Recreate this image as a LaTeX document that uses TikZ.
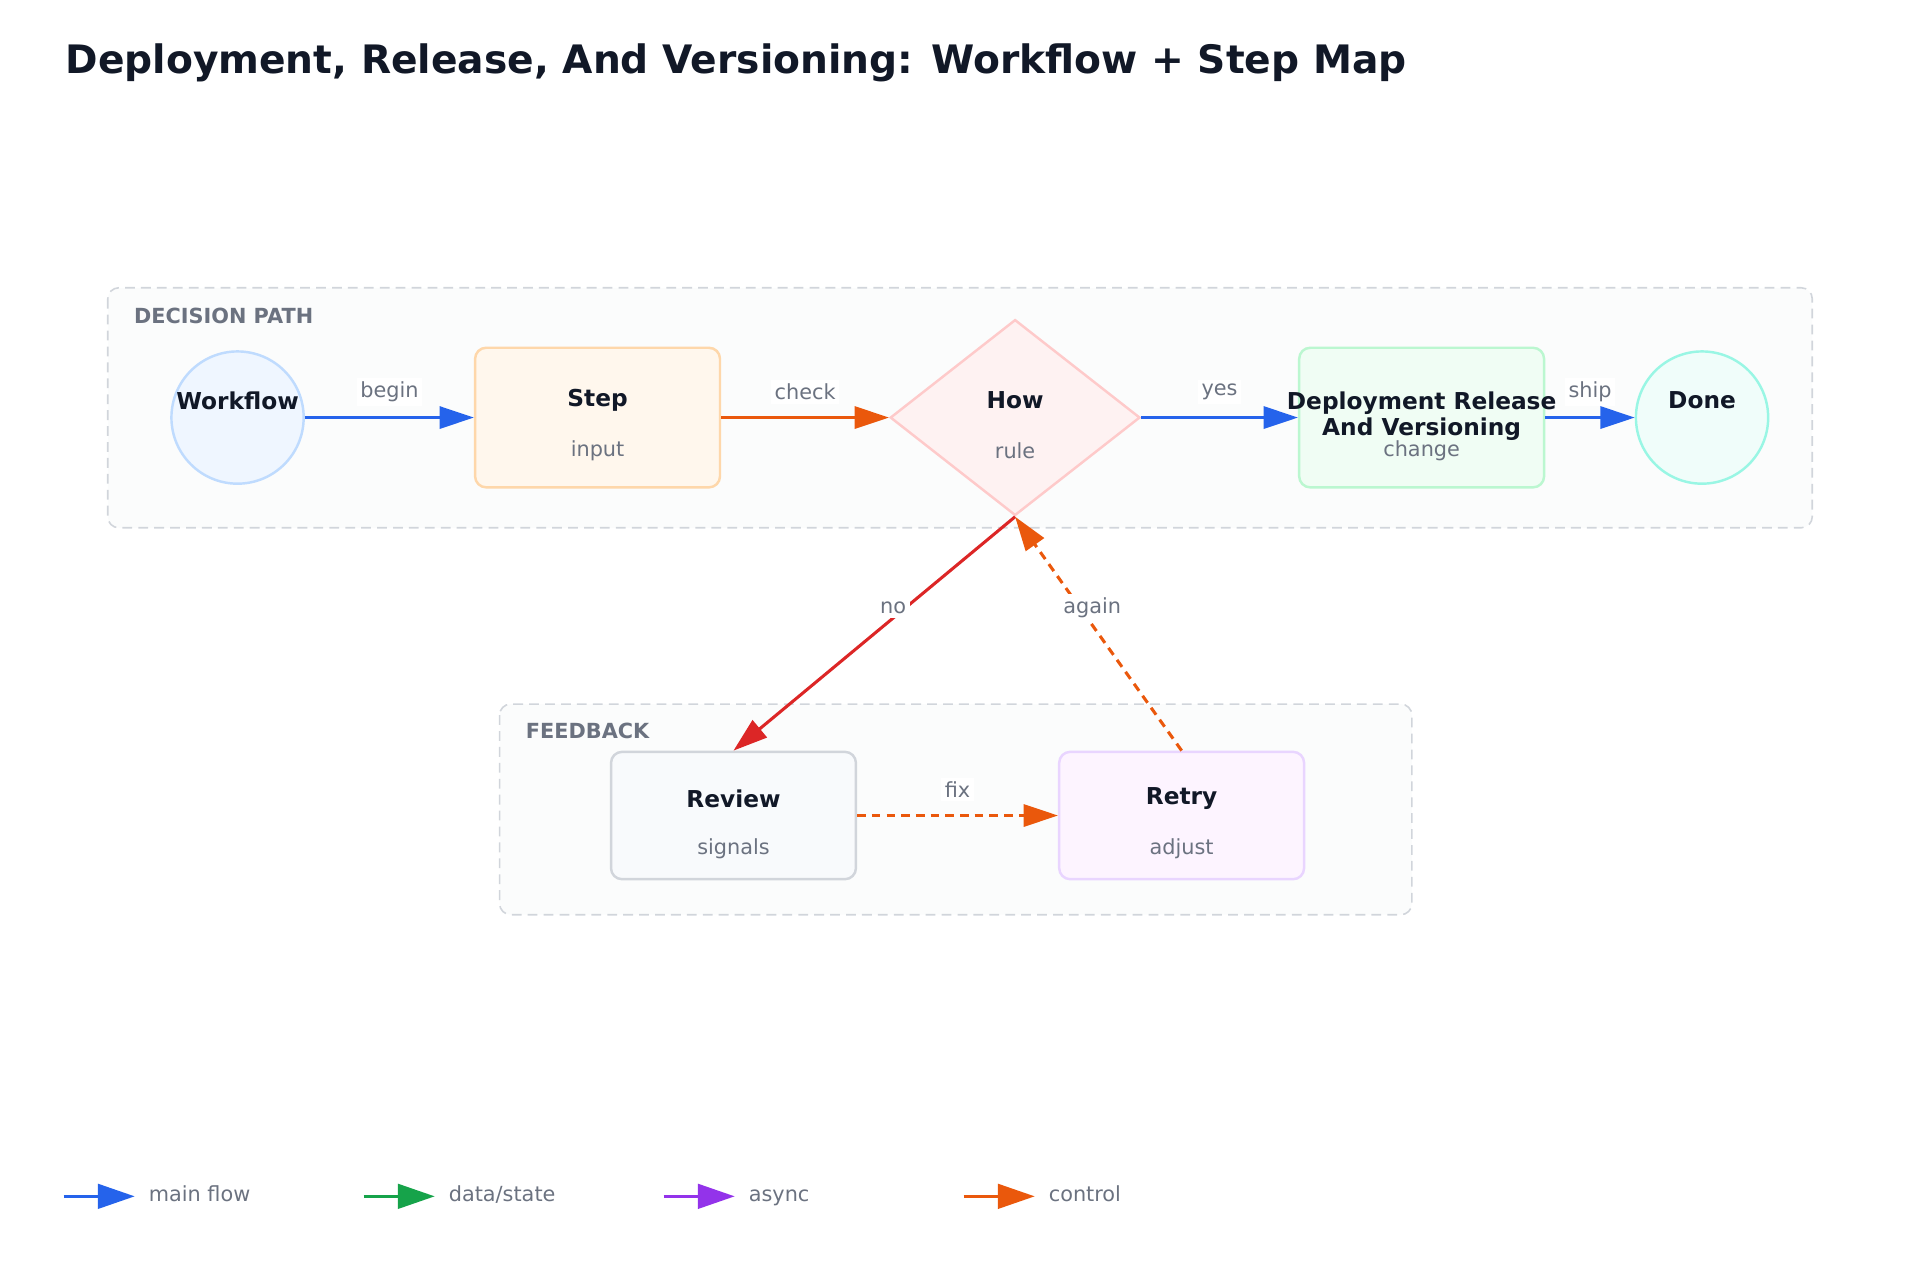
\documentclass[tikz,border=0pt]{standalone}
\usepackage{fontspec}
\setmainfont{DejaVu Sans}
\usetikzlibrary{arrows.meta,shapes.geometric}
\definecolor{tblue}{HTML}{2563EB}\definecolor{tgreen}{HTML}{16A34A}
\definecolor{tpurp}{HTML}{9333EA}\definecolor{torange}{HTML}{EA580C}
\definecolor{tred}{HTML}{DC2626}\definecolor{tgray}{HTML}{6B7280}
\definecolor{tdark}{HTML}{111827}\definecolor{tsub}{HTML}{6B7280}
\definecolor{c1s}{HTML}{BFDBFE}\definecolor{c1f}{HTML}{EFF6FF}
\definecolor{c2s}{HTML}{FED7AA}\definecolor{c2f}{HTML}{FFF7ED}
\definecolor{c3s}{HTML}{FECACA}\definecolor{c3f}{HTML}{FEF2F2}
\definecolor{c4s}{HTML}{BBF7D0}\definecolor{c4f}{HTML}{F0FDF4}
\definecolor{c5s}{HTML}{99F6E4}\definecolor{c5f}{HTML}{F0FDFA}
\definecolor{c6s}{HTML}{D1D5DB}\definecolor{c6f}{HTML}{F8FAFC}
\definecolor{c7s}{HTML}{E9D5FF}\definecolor{c7f}{HTML}{FDF4FF}
\definecolor{gs}{HTML}{D1D5DB}\definecolor{gf}{HTML}{FBFCFC}
\begin{document}
\begin{tikzpicture}[x=1pt,y=-1pt,
  grp/.style={draw=gs,dash pattern=on 8pt off 5pt,line width=1.3pt,rounded corners=9pt,fill=gf},
  grplab/.style={anchor=west,text=tgray,font=\fontsize{17}{20}\selectfont\bfseries},
  box/.style={rounded corners=9pt,line width=2pt,minimum width=200pt,minimum height=114pt},
  ttl/.style={font=\fontsize{19}{22}\selectfont\bfseries,text=tdark},
  sub/.style={font=\fontsize{17}{20}\selectfont,text=tsub},
  arr/.style={line width=2.5pt,-{Triangle[length=28pt,width=18pt]}},
  elab/.style={font=\fontsize{17}{20}\selectfont,text=tsub,fill=white,inner sep=3pt}]
\useasboundingbox (0,0) rectangle (1568,1045);
\node[anchor=west,font=\fontsize{32}{38}\selectfont\bfseries,text=tdark] (title) at (50,51) {Deployment, Release, And Versioning: Workflow + Step Map};
% groups
\draw[grp] (88,235) rectangle (1480,431);
\node[grplab] (g1) at (106,258) {DECISION PATH};
\draw[grp] (408,575) rectangle (1153,747);
\node[grplab] (g2) at (426,597) {FEEDBACK};
% nodes
\node[circle,draw=c1s,fill=c1f,line width=2pt,minimum size=108pt] (wf) at (194,341) {};
\node[ttl] at (194,327) {Workflow};
\node[box,draw=c2s,fill=c2f] (step) at (488,341) {};
\node[ttl] at (488,327) {Step}; \node[sub] at (488,368) {input};
\node[diamond,draw=c3s,fill=c3f,line width=2pt,minimum width=204pt,minimum height=160pt,inner sep=0pt] (how) at (829,341) {};
\node[ttl] at (829,327) {How}; \node[sub] at (829,368) {rule};
\node[box,draw=c4s,fill=c4f] (dep) at (1161,341) {};
\node[sub] at (1161,368) {change};
\node[ttl,align=center] at (1161,340) {Deployment Release\\[-1pt]And Versioning};
\node[circle,draw=c5s,fill=c5f,line width=2pt,minimum size=108pt] (done) at (1390,341) {};
\node[ttl] at (1390,327) {Done};
\node[box,draw=c6s,fill=c6f,minimum height=104pt] (rev) at (599,666) {};
\node[ttl] at (599,652) {Review}; \node[sub] at (599,693) {signals};
\node[box,draw=c7s,fill=c7f,minimum height=104pt] (ret) at (965,666) {};
\node[ttl] at (965,652) {Retry}; \node[sub] at (965,693) {adjust};
% edges
\draw[arr,tblue] (wf.east) -- (step.west) node[elab,pos=0.5,yshift=21pt]{begin};
\draw[arr,torange] (step.east) -- (how.west) node[elab,pos=0.5,yshift=21pt]{check};
\draw[arr,tblue] (how.east) -- (dep.west) node[elab,pos=0.5,yshift=21pt]{yes};
\draw[arr,tblue] (dep.east) -- (done.west) node[elab,pos=0.5,yshift=21pt]{ship};
\draw[arr,tred] (how.south) -- (rev.north) node[elab,pos=0.39,xshift=-10pt]{no};
\draw[arr,torange,dash pattern=on 7pt off 5pt] (ret.north) -- (how.south) node[elab,pos=0.61,xshift=10pt]{again};
\draw[arr,torange,dash pattern=on 7pt off 5pt] (rev.east) -- (ret.west) node[elab,pos=0.5,yshift=21pt]{fix};
% legend
\foreach \c/\t/\x in {tblue/main flow/52,tgreen/data\slash state/297,tpurp/async/542,torange/control/787}{
  \coordinate (a\x) at (\x,977); \coordinate (b\x) at (\x+58,977);
  \draw[line width=2.5pt,\c,-{Triangle[length=30pt,width=20pt]}] (a\x) -- (b\x);
  \node[anchor=west,font=\fontsize{17}{20}\selectfont,text=tsub] at (\x+66,977) {\strut\t};}
\end{tikzpicture}
\end{document}
